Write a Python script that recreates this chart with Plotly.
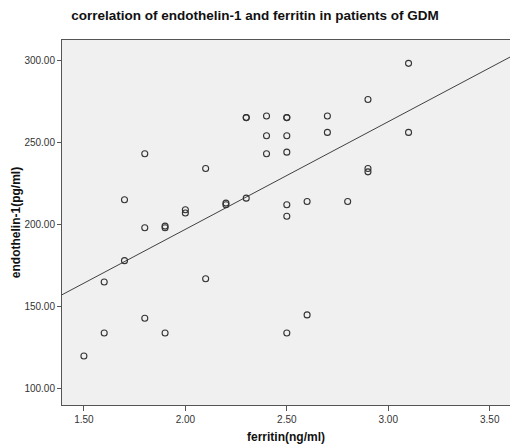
import numpy as np
import plotly.graph_objects as go

title_text = "correlation of endothelin-1 and ferritin in patients of GDM"
x_title = "ferritin(ng/ml)"
y_title = "endothelin-1(pg/ml)"

ferritin = [2.3, 2.3, 2.4, 2.4, 2.4, 1.8, 2.1, 1.7, 1.8, 1.9, 1.9, 2.0, 2.0, 2.2, 2.2, 2.3,
            2.5, 2.5, 2.5, 2.5, 2.7, 2.7, 2.9, 3.1, 3.1, 2.9, 2.9, 2.5, 2.5, 2.6, 2.8,
            1.7, 1.6, 2.1, 1.8, 1.6, 1.9, 1.5, 2.6, 2.5]
endothelin = [265, 265, 266, 254, 243, 243, 234, 215, 198, 199, 198, 209, 207, 213, 212, 216,
              265, 265, 254, 244, 266, 256, 276, 298, 256, 234, 232, 212, 205, 214, 214,
              178, 165, 167, 143, 134, 134, 120, 145, 134]

x_tick_vals = [1.5, 2.0, 2.5, 3.0, 3.5]
y_tick_vals = [100, 150, 200, 250, 300]
x_range = [1.392, 3.6]
y_range = [90.2, 312.2]

slope, intercept = np.polyfit(ferritin, endothelin, 1)
fit_x = np.array(x_range)
fit_y = slope * fit_x + intercept

fig = go.Figure()
fig.add_trace(go.Scatter(
    x=fit_x, y=fit_y, mode="lines",
    line=dict(color="#404040", width=1), hoverinfo="skip", showlegend=False))
fig.add_trace(go.Scatter(
    x=ferritin, y=endothelin, mode="markers",
    marker=dict(symbol="circle-open", size=6, color="#333333", line=dict(width=1.1)),
    showlegend=False))

fig.update_layout(
    width=510, height=448,
    margin=dict(l=62, r=0, t=40, b=43),
    paper_bgcolor="white", plot_bgcolor="#f0f0f0",
    font=dict(family="Liberation Sans, Arial, sans-serif", color="#222222"),
    title=dict(text="<b>" + title_text + "</b>", x=0.5, xref="container", xanchor="center",
               y=1 - 15 / 448, yref="container", yanchor="middle", pad=dict(t=0, b=0),
               font=dict(size=13.5, color="#111111")),
)
fig.update_xaxes(
    range=x_range, tickvals=x_tick_vals, tickformat=".2f", automargin=False,
    showgrid=False, zeroline=False,
    showline=True, mirror=True, linecolor="#555555", linewidth=1,
    ticks="outside", ticklen=5, tickcolor="#555555",
    tickfont=dict(size=10, color="#333333"),
    title=dict(text="<b>" + x_title + "</b>", font=dict(size=12, color="#111111"), standoff=8),
)
fig.update_yaxes(
    range=y_range, tickvals=y_tick_vals, tickformat=".2f", automargin=False,
    showgrid=False, zeroline=False,
    showline=True, mirror=True, linecolor="#555555", linewidth=1,
    ticks="outside", ticklen=4, tickcolor="#555555",
    tickfont=dict(size=10, color="#333333"),
    title=dict(text="<b>" + y_title + "</b>", font=dict(size=12, color="#111111"), standoff=1),
)

fig.write_html("out.html", config={"displayModeBar": False},
               post_script="document.body.style.margin='0';")
